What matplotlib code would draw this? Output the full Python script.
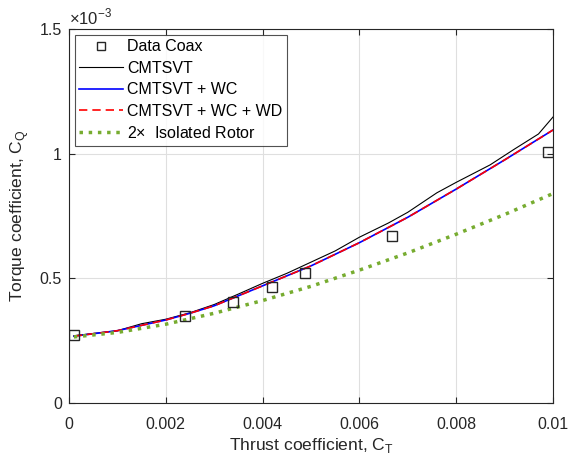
import matplotlib
matplotlib.use("Agg")
import matplotlib.pyplot as plt

plt.rcParams['font.family'] = ['Liberation Sans', 'DejaVu Sans']
plt.rcParams['mathtext.fontset'] = 'custom'
plt.rcParams['mathtext.rm'] = 'Liberation Sans'

# Valores em unidades de 1e-3 para C_Q
ct_data = [0.0001, 0.0024, 0.00339, 0.0042, 0.00488, 0.00667, 0.0099]
cq_data = [0.273, 0.349, 0.405, 0.465, 0.521, 0.670, 1.007]

ct_cmt = [0.0001, 0.001, 0.0015, 0.002, 0.0025, 0.003, 0.0035, 0.004, 0.0045, 0.005,
          0.0055, 0.006, 0.0066, 0.007, 0.0076, 0.008, 0.0087, 0.0092, 0.0097, 0.01]
cq_cmt = [0.270, 0.290, 0.318, 0.336, 0.362, 0.395, 0.437, 0.480, 0.520, 0.565,
          0.610, 0.665, 0.722, 0.765, 0.843, 0.885, 0.955, 1.018, 1.079, 1.147]

ct_wc = [0.0001, 0.001, 0.002, 0.0025, 0.003, 0.0035, 0.004, 0.0045, 0.005,
         0.006, 0.007, 0.008, 0.009, 0.01]
cq_wc = [0.268, 0.290, 0.333, 0.360, 0.390, 0.430, 0.470, 0.510, 0.550,
         0.643, 0.745, 0.858, 0.975, 1.095]
cq_wcwd = [0.268, 0.290, 0.333, 0.360, 0.390, 0.430, 0.470, 0.510, 0.550,
           0.643, 0.745, 0.858, 0.975, 1.095]

ct_iso = [0.0001, 0.001, 0.002, 0.003, 0.004, 0.005, 0.006, 0.007, 0.008, 0.009, 0.01]
cq_iso = [0.265, 0.283, 0.316, 0.360, 0.411, 0.468, 0.533, 0.602, 0.677, 0.756, 0.840]

esc = 1e-3
cinza = '#262626'

fig = plt.figure(figsize=(5.68, 4.59), dpi=100)
ax = fig.add_axes([0.1215, 0.122, 0.8521, 0.8148])

ax.plot(ct_data, [v * esc for v in cq_data], 's', mfc='none', mec=cinza, ms=7,
        mew=1.0, label='Data Coax', zorder=5)
ax.plot(ct_cmt, [v * esc for v in cq_cmt], '-', color='black', lw=0.8, label='CMTSVT')
ax.plot(ct_wc, [v * esc for v in cq_wc], '-', color='#0000ff', lw=1.2, label='CMTSVT + WC')
ax.plot(ct_wc, [v * esc for v in cq_wcwd], '--', color='#ff0000', lw=1.2,
        dashes=(5, 3), label='CMTSVT + WC + WD')
ax.plot(ct_iso, [v * esc for v in cq_iso], ':', color='#77ac30', lw=2.5,
        label=r'2$\times$  Isolated Rotor')

ax.set_xlim(0, 0.01)
ax.set_ylim(0, 1.5e-3)
ax.set_xticks([0, 0.002, 0.004, 0.006, 0.008, 0.01])
ax.set_xticklabels(['0', '0.002', '0.004', '0.006', '0.008', '0.01'])
ax.set_yticks([0, 0.5e-3, 1e-3, 1.5e-3])
ax.set_yticklabels(['0', '0.5', '1', '1.5'])
ax.text(0.0, 1.005, r'$\times$10$^{-3}$', transform=ax.transAxes, fontsize=12,
        ha='left', va='bottom', color=cinza)

ax.grid(True, color='#dfdfdf', lw=0.8)
ax.set_axisbelow(True)
ax.tick_params(direction='in', length=4, labelsize=11.5, colors=cinza,
               top=True, right=True)
ax.tick_params(axis='x', pad=10)
ax.tick_params(axis='y', pad=5)
for s in ax.spines.values():
    s.set_color(cinza)
    s.set_linewidth(0.8)

ax.set_xlabel('Thrust coefficient, C$_\\mathrm{T}$', fontsize=12.6, color=cinza, labelpad=3)
ax.set_ylabel('Torque coefficient, C$_\\mathrm{Q}$', fontsize=12.6, color=cinza, labelpad=6)

leg = ax.legend(loc='upper left', fontsize=11.5, frameon=True, fancybox=False,
                edgecolor=cinza, handlelength=2.75, borderpad=0.3, markerscale=0.75,
                labelspacing=0.4, handletextpad=0.25, borderaxespad=0.35)
leg.get_frame().set_linewidth(0.8)

fig.savefig('out.png', dpi=100)
